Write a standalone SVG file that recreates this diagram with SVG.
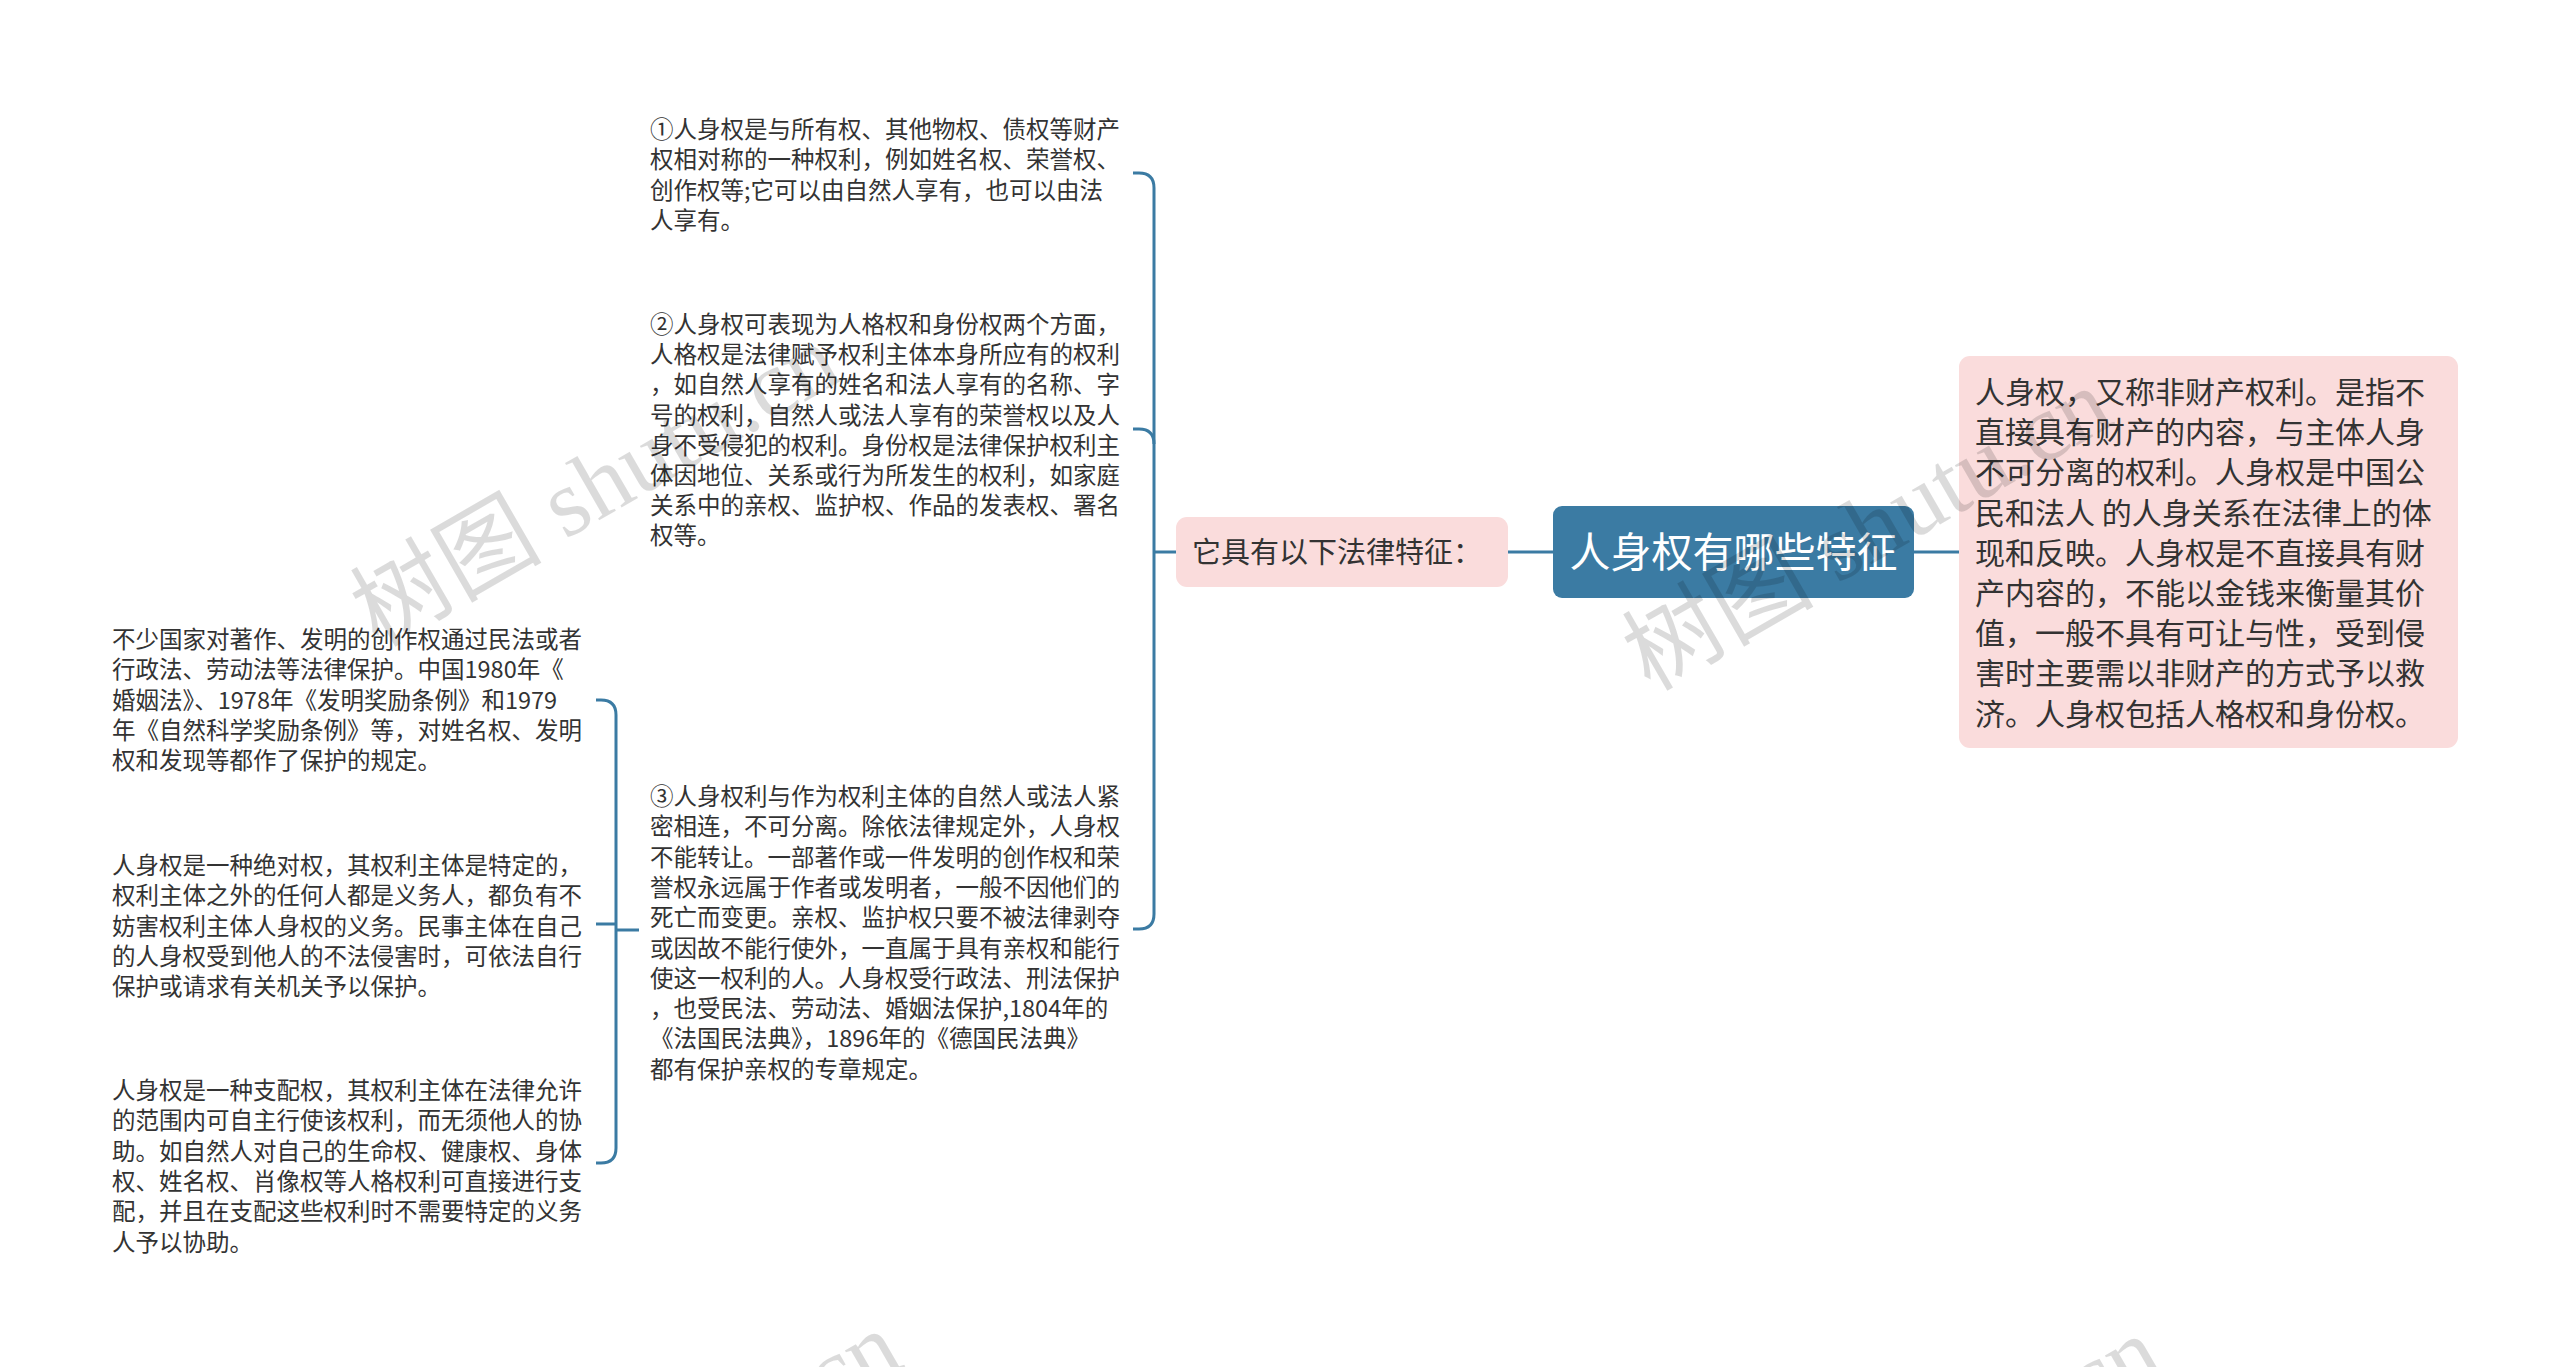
<svg xmlns="http://www.w3.org/2000/svg" width="2560" height="1367" viewBox="0 0 2560 1367">
<style>
text{font-family:"Noto Sans CJK SC","Noto Sans",sans-serif;}
.leaf{font-size:23.5px;fill:#333;}
.sub{font-size:30px;fill:#333;}
.mid{font-size:29px;fill:#333;}
.root{font-size:41px;fill:#fff;}
.pink{fill:#fadcdc;}
.con{fill:none;stroke:#3b7ba3;stroke-width:3;}
.wm{font-size:96px;fill:#000;fill-opacity:0.14;font-family:"Liberation Serif","Noto Sans CJK SC",serif;}
</style>
<rect width="2560" height="1367" fill="#fff"/>
<g id="connectors">
<path class="con" d="M1914,552 H1959"/>
<path class="con" d="M1508,552 H1553"/>
<path class="con" d="M1154,552 H1176"/>
<path class="con" d="M1133,173 H1139 Q1154,173 1154,188 V914 Q1154,929 1139,929 H1133"/>
<path class="con" d="M1133,429 H1139 Q1154,429 1154,444"/>
<path class="con" d="M596,700 H601 Q616,700 616,715 V1148 Q616,1163 601,1163 H596"/>
<path class="con" d="M596,924 H616"/>
<path class="con" d="M616,930 H639"/>
</g>
<g id="root">
<rect x="1553" y="506" width="361" height="92" rx="9" fill="#3b7ba3"/>
<text class="root" x="1733.5" y="567" text-anchor="middle">人身权有哪些特征</text>
</g>
<g id="subject">
<rect class="pink" x="1959" y="356" width="499" height="392" rx="11"/>
<text class="sub" x="1975" y="403">
<tspan x="1975">人身权，又称非财产权利。是指不</tspan>
<tspan x="1975" dy="40.2">直接具有财产的内容，与主体人身</tspan>
<tspan x="1975" dy="40.2">不可分离的权利。人身权是中国公</tspan>
<tspan x="1975" dy="40.2">民和法人 的人身关系在法律上的体</tspan>
<tspan x="1975" dy="40.2">现和反映。人身权是不直接具有财</tspan>
<tspan x="1975" dy="40.2">产内容的，不能以金钱来衡量其价</tspan>
<tspan x="1975" dy="40.2">值，一般不具有可让与性，受到侵</tspan>
<tspan x="1975" dy="40.2">害时主要需以非财产的方式予以救</tspan>
<tspan x="1975" dy="40.2">济。人身权包括人格权和身份权。</tspan>
</text>
</g>
<g id="features">
<rect class="pink" x="1176" y="517" width="332" height="70" rx="11"/>
<text class="mid" x="1192" y="563">它具有以下法律特征：</text>
</g>
<g id="item1">
<text class="leaf" x="650" y="138">
<tspan x="650">①人身权是与所有权、其他物权、债权等财产</tspan>
<tspan x="650" dy="30.3">权相对称的一种权利，例如姓名权、荣誉权、</tspan>
<tspan x="650" dy="30.3">创作权等;它可以由自然人享有，也可以由法</tspan>
<tspan x="650" dy="30.3">人享有。</tspan>
</text>
</g>
<g id="item2">
<text class="leaf" x="650" y="333">
<tspan x="650">②人身权可表现为人格权和身份权两个方面，</tspan>
<tspan x="650" dy="30.2">人格权是法律赋予权利主体本身所应有的权利</tspan>
<tspan x="650" dy="30.2">，如自然人享有的姓名和法人享有的名称、字</tspan>
<tspan x="650" dy="30.2">号的权利，自然人或法人享有的荣誉权以及人</tspan>
<tspan x="650" dy="30.2">身不受侵犯的权利。身份权是法律保护权利主</tspan>
<tspan x="650" dy="30.2">体因地位、关系或行为所发生的权利，如家庭</tspan>
<tspan x="650" dy="30.2">关系中的亲权、监护权、作品的发表权、署名</tspan>
<tspan x="650" dy="30.2">权等。</tspan>
</text>
</g>
<g id="item3">
<text class="leaf" x="650" y="805">
<tspan x="650">③人身权利与作为权利主体的自然人或法人紧</tspan>
<tspan x="650" dy="30.3">密相连，不可分离。除依法律规定外，人身权</tspan>
<tspan x="650" dy="30.3">不能转让。一部著作或一件发明的创作权和荣</tspan>
<tspan x="650" dy="30.3">誉权永远属于作者或发明者，一般不因他们的</tspan>
<tspan x="650" dy="30.3">死亡而变更。亲权、监护权只要不被法律剥夺</tspan>
<tspan x="650" dy="30.3">或因故不能行使外，一直属于具有亲权和能行</tspan>
<tspan x="650" dy="30.3">使这一权利的人。人身权受行政法、刑法保护</tspan>
<tspan x="650" dy="30.3">，也受民法、劳动法、婚姻法保护,1804年的</tspan>
<tspan x="650" dy="30.3">《法国民法典》，1896年的《德国民法典》</tspan>
<tspan x="650" dy="30.3">都有保护亲权的专章规定。</tspan>
</text>
</g>
<g id="detail1">
<text class="leaf" x="112" y="648">
<tspan x="112">不少国家对著作、发明的创作权通过民法或者</tspan>
<tspan x="112" dy="30.3">行政法、劳动法等法律保护。中国1980年《</tspan>
<tspan x="112" dy="30.3">婚姻法》、1978年《发明奖励条例》和1979</tspan>
<tspan x="112" dy="30.3">年《自然科学奖励条例》等，对姓名权、发明</tspan>
<tspan x="112" dy="30.3">权和发现等都作了保护的规定。</tspan>
</text>
</g>
<g id="detail2">
<text class="leaf" x="112" y="874">
<tspan x="112">人身权是一种绝对权，其权利主体是特定的，</tspan>
<tspan x="112" dy="30.3">权利主体之外的任何人都是义务人，都负有不</tspan>
<tspan x="112" dy="30.3">妨害权利主体人身权的义务。民事主体在自己</tspan>
<tspan x="112" dy="30.3">的人身权受到他人的不法侵害时，可依法自行</tspan>
<tspan x="112" dy="30.3">保护或请求有关机关予以保护。</tspan>
</text>
</g>
<g id="detail3">
<text class="leaf" x="112" y="1099">
<tspan x="112">人身权是一种支配权，其权利主体在法律允许</tspan>
<tspan x="112" dy="30.3">的范围内可自主行使该权利，而无须他人的协</tspan>
<tspan x="112" dy="30.3">助。如自然人对自己的生命权、健康权、身体</tspan>
<tspan x="112" dy="30.3">权、姓名权、肖像权等人格权利可直接进行支</tspan>
<tspan x="112" dy="30.3">配，并且在支配这些权利时不需要特定的义务</tspan>
<tspan x="112" dy="30.3">人予以协助。</tspan>
</text>
</g>
<g id="watermarks">
<text class="wm" transform="translate(378,648) rotate(-30)">树图 shutu.cn</text>
<text class="wm" transform="translate(1650,692) rotate(-30)">树图 shutu.cn</text>
<text class="wm" transform="translate(440,1635) rotate(-30)">树图 shutu.cn</text>
<text class="wm" transform="translate(1700,1640) rotate(-30)">树图 shutu.cn</text>
</g>
</svg>
